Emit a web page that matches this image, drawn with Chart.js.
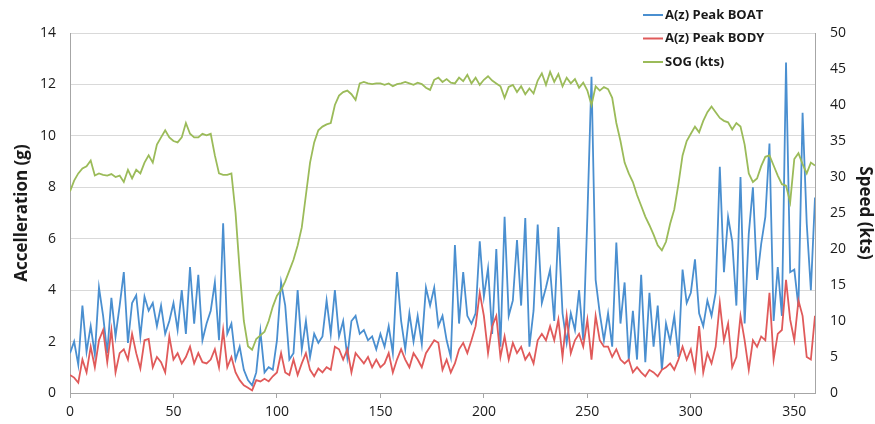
<!DOCTYPE html>
<html>
<head>
<meta charset="utf-8">
<script src="https://cdn.jsdelivr.net/npm/chart.js@4.4.1/dist/chart.umd.min.js"></script>
<style>
  html, body { margin: 0; padding: 0; background: #fff; }
</style>
</head>
<body>
<canvas id="chart" width="875" height="424"></canvas>
<script>
// one sample every 2 seconds, 0..360
const seconds = Array.from({ length: 181 }, (_, i) => i * 2);

const peakBoat = [
  1.55, 2.0, 1.1, 3.4, 1.6, 2.6, 1.5, 4.1, 3.0, 1.55,
  3.7, 2.2, 3.4, 4.7, 1.95, 3.5, 3.8, 2.2, 3.75, 3.2,
  3.5, 2.6, 3.4, 2.3, 2.8, 3.5, 2.45, 4.0, 2.3, 4.9,
  2.7, 4.6, 2.05, 2.7, 3.2, 4.3, 2.05, 6.6, 2.3, 2.7,
  1.3, 1.8, 0.9, 0.5, 0.3, 0.8, 2.4, 0.8, 1.0, 0.9,
  2.05, 4.3, 3.4, 1.3, 1.55, 4.0, 1.7, 2.8, 1.4, 2.3,
  1.95, 2.2, 3.6, 2.3, 4.0, 2.2, 2.8, 1.4, 2.8, 3.0,
  2.3, 2.45, 2.05, 2.2, 1.7, 2.3, 1.8, 2.6, 1.55, 4.7,
  2.8, 1.7, 3.1, 2.0, 3.0, 1.9, 4.1, 3.4, 4.1, 2.6,
  3.0, 2.05, 1.4, 5.75, 2.7, 4.7, 3.0, 2.7, 3.1, 5.9,
  3.75, 4.85, 2.3, 5.6, 1.8, 6.85, 3.0, 3.6, 5.95, 3.4,
  6.8, 1.8, 3.2, 6.55, 3.5, 4.1, 4.8, 2.8, 6.45, 3.1,
  1.95, 3.1, 2.45, 4.0, 2.05, 6.85, 12.3, 4.4, 3.1, 2.05,
  3.1, 1.8, 5.85, 2.7, 4.3, 1.3, 3.2, 1.3, 4.6, 1.2,
  3.9, 1.8, 3.4, 0.9, 2.7, 2.0, 3.0, 1.4, 4.8, 3.5,
  3.9, 5.2, 3.1, 2.6, 3.6, 3.0, 3.9, 8.8, 4.7, 6.85,
  5.9, 3.4, 8.4, 2.7, 6.2, 8.0, 4.4, 5.8, 6.85, 9.7,
  2.8, 4.9, 3.0, 12.85, 4.7, 4.8, 3.35, 10.9, 6.6, 4.0,
  7.6
];

const peakBody = [
  0.7, 0.6, 0.4, 1.3, 0.8, 1.8, 1.0, 2.05, 2.45, 1.2,
  2.45, 0.8, 1.55, 1.7, 1.3, 2.3, 1.55, 0.95, 2.05, 2.1,
  1.0, 1.4, 1.2, 0.8, 2.2, 1.3, 1.55, 1.15, 1.4, 1.8,
  1.15, 1.55, 1.2, 1.15, 1.3, 1.7, 1.0, 2.45, 1.0, 1.4,
  0.8, 0.5, 0.3, 0.2, 0.1, 0.5, 0.45, 0.55, 0.45, 0.65,
  0.8, 1.55, 0.8, 0.7, 1.3, 0.7, 1.15, 1.55, 0.9, 0.65,
  0.95, 0.8, 1.0, 0.9, 1.8, 1.7, 1.3, 1.7, 0.8, 1.55,
  1.35, 1.15, 1.4, 1.0, 1.3, 1.0, 1.15, 1.55, 0.8, 1.3,
  1.7, 1.3, 1.0, 1.55, 1.3, 1.0, 1.55, 1.8, 2.05, 1.95,
  0.9, 1.3, 0.8, 1.15, 1.7, 1.95, 1.55, 2.05, 2.6, 3.9,
  3.0, 1.55, 2.6, 3.0, 1.4, 2.2, 1.3, 1.95, 1.55, 1.8,
  1.3, 1.55, 1.15, 2.05, 2.3, 2.05, 2.6, 2.05, 2.85, 1.4,
  3.0, 1.55, 2.05, 2.3, 1.8, 2.85, 1.3, 3.0, 2.05, 1.8,
  1.8, 1.4, 1.7, 1.3, 1.15, 1.3, 0.8, 1.0, 0.8, 0.65,
  0.9, 0.8, 0.65, 0.9, 1.0, 1.15, 0.9, 1.3, 1.8, 1.3,
  1.7, 0.9, 2.6, 0.8, 1.55, 1.15, 1.8, 3.5, 2.05, 2.7,
  1.0, 1.4, 3.0, 2.05, 0.9, 2.05, 1.8, 2.2, 2.05, 3.9,
  1.3, 2.3, 2.45, 4.4, 2.85, 2.05, 3.6, 3.0, 1.4, 1.3,
  3.0
];

const sogKts = [
  28, 29.5, 30.5, 31.2, 31.5, 32.3, 30.2, 30.5, 30.3, 30.2,
  30.4, 30, 30.2, 29.3, 31, 29.8, 31, 30.5, 32, 33,
  32, 34.5, 35.5, 36.5, 35.5, 35, 34.8, 35.5, 37.5, 36,
  35.5, 35.5, 36, 35.8, 36, 33, 30.5, 30.3, 30.3, 30.5,
  25, 17, 10, 6.5, 6, 7.5, 8, 8.5, 10, 12,
  13.5, 14.3, 15.5, 17, 18.5, 20.5, 23, 27.5, 32, 34.8,
  36.5, 37, 37.3, 37.5, 40, 41.3, 41.8, 42, 41.5, 40.7,
  43, 43.2, 43, 42.9, 43, 43, 42.8, 43, 42.6, 42.9,
  43, 43.2, 43, 42.8, 43.1, 42.9, 42.4, 42.1, 43.5, 43.8,
  43.2, 43.6, 43.1, 43, 43.8, 43.3, 44.2, 43, 43.8, 42.8,
  43.5, 44, 43.4, 43, 42.6, 41, 42.5, 42.8, 41.8, 42.6,
  41.5, 42.3, 41.6, 43.4, 44.4, 42.8, 44.6, 43.2, 44.3, 42.6,
  43.8, 43, 43.6, 42.4, 43.1, 42, 40, 42.6, 42, 42.5,
  42.2, 41, 37.5, 35, 32, 30.5, 29.3, 27.5, 26, 24.5,
  23.3, 22, 20.5, 19.8, 21, 23.5, 25.5, 29, 33, 35,
  36, 37, 36.2, 37.8, 39, 39.8, 39, 38.2, 37.8, 37.6,
  36.6, 37.5, 37, 34.5, 30.5, 29.3, 29.8, 31.5, 32.8, 33,
  31.6, 30.2, 29, 28.8, 26.5, 32.5, 33.3, 31.8, 30.5, 32,
  31.6
];

const seriesNames = ['A(z) Peak BOAT', 'A(z) Peak BODY', 'SOG (kts)'];
const seriesColors = ['#4a8fd0', '#e05a5a', '#9bbb59'];

const toPoints = (values) => values.map((v, i) => ({ x: seconds[i], y: v }));

const fontFamily = '"Open Sans", "Liberation Sans", sans-serif';

const cornerLegend = {
  id: 'cornerLegend',
  afterDraw(chart) {
    const ctx = chart.ctx;
    ctx.save();
    ctx.font = 'bold 13px ' + fontFamily;
    ctx.textBaseline = 'middle';
    ctx.textAlign = 'left';
    chart.data.datasets.forEach((ds, i) => {
      const y = 15 + i * 23.5;
      ctx.strokeStyle = ds.borderColor;
      ctx.lineWidth = 2;
      ctx.beginPath();
      ctx.moveTo(643, y);
      ctx.lineTo(663, y);
      ctx.stroke();
      ctx.fillStyle = '#1a1a1a';
      ctx.fillText(ds.label, 665, y);
    });
    ctx.restore();
  },
};

new Chart(document.getElementById('chart'), {
  type: 'line',
  data: {
    datasets: [
      { label: seriesNames[0], data: toPoints(peakBoat), borderColor: seriesColors[0], yAxisID: 'y', order: 3 },
      { label: seriesNames[1], data: toPoints(peakBody), borderColor: seriesColors[1], yAxisID: 'y', order: 2 },
      { label: seriesNames[2], data: toPoints(sogKts), borderColor: seriesColors[2], yAxisID: 'y2', order: 1 },
    ],
  },
  options: {
    responsive: false,
    animation: false,
    layout: { padding: { top: 33, left: 0, right: 0, bottom: 0 } },
    elements: {
      point: { radius: 0 },
      line: { borderWidth: 1.8, tension: 0 },
    },
    plugins: {
      legend: { display: false },
      tooltip: { enabled: false },
    },
    scales: {
      x: {
        type: 'linear',
        min: 0,
        max: 360,
        afterFit: (s) => { s.height = 31; },
        ticks: {
          stepSize: 50,
          includeBounds: false,
          padding: 6,
          color: '#1a1a1a',
          font: { family: fontFamily, size: 14 },
        },
        grid: { drawOnChartArea: false, drawTicks: true, tickLength: 5, color: '#a6a6a6' },
        border: { color: '#a6a6a6' },
      },
      y: {
        position: 'left',
        min: 0,
        max: 14,
        afterFit: (s) => { s.width = 70; },
        ticks: {
          stepSize: 2,
          padding: 14,
          color: '#1a1a1a',
          font: { family: fontFamily, size: 14 },
        },
        grid: { color: '#d9d9d9', drawTicks: false },
        border: { color: '#a6a6a6' },
        title: {
          display: true,
          text: 'Accelleration (g)',
          color: '#1a1a1a',
          font: { family: fontFamily, size: 17, weight: 'bold' },
          padding: { top: 12, bottom: 0 },
        },
      },
      y2: {
        position: 'right',
        min: 0,
        max: 50,
        afterFit: (s) => { s.width = 60; },
        ticks: {
          stepSize: 5,
          padding: 15,
          color: '#1a1a1a',
          font: { family: fontFamily, size: 14 },
        },
        grid: { drawOnChartArea: false, drawTicks: false },
        border: { color: '#a6a6a6' },
        title: {
          display: true,
          text: 'Speed (kts)',
          color: '#1a1a1a',
          font: { family: fontFamily, size: 17, weight: 'bold' },
          padding: { top: 0, bottom: 0 },
        },
      },
    },
  },
  plugins: [cornerLegend],
});
</script>
</body>
</html>
